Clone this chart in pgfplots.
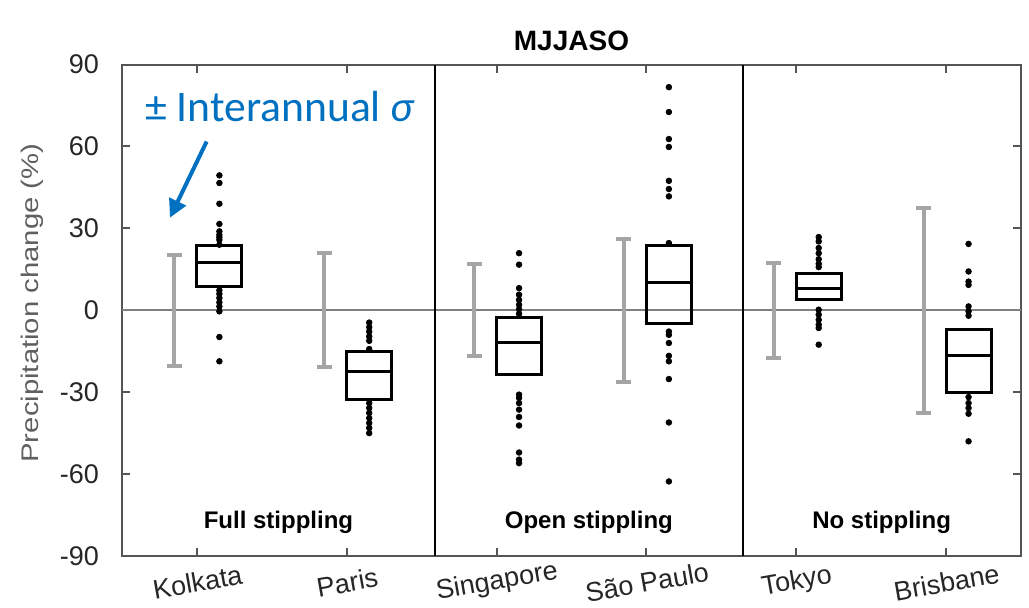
\documentclass[border=0pt]{standalone}
\usepackage{fontspec}
\setmainfont{Liberation Sans}
\newfontfamily\carlito{Carlito}
\usepackage{pgfplots}
\pgfplotsset{compat=1.18}
\usepgfplotslibrary{statistics}
\usetikzlibrary{arrows.meta}

\definecolor{axisgray}{RGB}{85,85,85}
\definecolor{zerogray}{RGB}{128,128,128}
\definecolor{sdgray}{RGB}{165,165,165}
\definecolor{annoblue}{RGB}{0,112,192}
\definecolor{labelgray}{RGB}{95,95,95}

\begin{document}
\begin{tikzpicture}
\begin{axis}[
    at={(0,0)}, anchor=south west,
    scale only axis,
    width=449.5pt, height=245.75pt,
    xmin=-0.5, xmax=5.5, ymin=-90, ymax=90,
    clip=false,
    axis line style={axisgray, line width=1pt},
    tick style={axisgray, line width=1pt},
    tick align=inside, tick pos=both,
    major tick length=4pt,
    xtick={0,...,5},
    xticklabels={Kolkata, Paris, Singapore, São Paulo, Tokyo, Brisbane},
    ytick={-90,-60,-30,0,30,60,90},
    yticklabels={-90,-60,-30,0,30,60,90},
    ticklabel style={font=\fontsize{13.5}{16}\selectfont, text=black!85},
    xticklabel style={rotate=10, anchor=center, yshift=-13pt, xshift=-2pt},
    yticklabel style={anchor=east, xshift=-8pt},
    ylabel={\scalebox{1.22}[1]{Precipitation change (\%)}},
    ylabel style={at={(axis description cs:0,0.5)}, anchor=center,
        xshift=3.6pt, yshift=45pt, text=labelgray,
        font=\fontsize{12}{14}\selectfont},
]

% zero line and group separators
\addplot[zerogray, line width=1pt] coordinates {(-0.5,0) (5.5,0)};
\addplot[black, line width=1.1pt] coordinates {(1.587,-90) (1.587,90)};
\addplot[black, line width=1.1pt] coordinates {(3.645,-90) (3.645,90)};

% +- interannual sigma
\addplot[draw=none, mark=none,
    error bars/.cd, y dir=both, y explicit,
    error bar style={sdgray, line width=2pt},
    error mark options={rotate=90, sdgray, line width=2pt, mark size=3.75pt}]
coordinates {
    (-0.15,0) +- (0,20.4)
    (0.85,0) +- (0,20.8)
    (1.85,0) +- (0,16.9)
    (2.85,0) +- (0,26.1)
    (3.85,0) +- (0,17.4)
    (4.85,0) +- (0,37.5)
};

% boxes
\pgfplotsset{boxstyle/.style={black, line width=1.5pt, solid, mark=none,
    boxplot/draw direction=y}}
\addplot[boxstyle, boxplot prepared={draw position=0.15, box extend=0.3,
    median=17.5, upper quartile=23.7, lower quartile=8.7,
    upper whisker=23.7, lower whisker=8.7}] coordinates {};
\addplot[boxstyle, boxplot prepared={draw position=1.15, box extend=0.3,
    median=-22.6, upper quartile=-15.1, lower quartile=-32.8,
    upper whisker=-15.1, lower whisker=-32.8}] coordinates {};
\addplot[boxstyle, boxplot prepared={draw position=2.15, box extend=0.3,
    median=-11.8, upper quartile=-2.6, lower quartile=-23.4,
    upper whisker=-2.6, lower whisker=-23.4}] coordinates {};
\addplot[boxstyle, boxplot prepared={draw position=3.15, box extend=0.3,
    median=10.0, upper quartile=23.7, lower quartile=-4.7,
    upper whisker=23.7, lower whisker=-4.7}] coordinates {};
\addplot[boxstyle, boxplot prepared={draw position=4.15, box extend=0.3,
    median=8.1, upper quartile=13.3, lower quartile=3.8,
    upper whisker=13.3, lower whisker=3.8}] coordinates {};
\addplot[boxstyle, boxplot prepared={draw position=5.15, box extend=0.3,
    median=-16.7, upper quartile=-7.1, lower quartile=-30.3,
    upper whisker=-7.1, lower whisker=-30.3}] coordinates {};

% individual model values
\pgfplotsset{dotstyle/.style={only marks, mark=*, mark size=1.4pt, black}}
\addplot[dotstyle] coordinates {
    (0.15,49.4) (0.15,46.6) (0.15,39.0) (0.15,31.6) (0.15,28.9) (0.15,27.6)
    (0.15,26.7) (0.15,25.8) (0.15,24.0) (0.15,7.3) (0.15,6.0) (0.15,4.5)
    (0.15,2.9) (0.15,1.4) (0.15,-0.4) (0.15,-9.8) (0.15,-18.7)
};
\addplot[dotstyle] coordinates {
    (1.15,-4.5) (1.15,-6.2) (1.15,-7.8) (1.15,-9.6) (1.15,-11.2) (1.15,-14.2)
    (1.15,-34.0) (1.15,-35.8) (1.15,-37.6) (1.15,-39.5) (1.15,-41.3)
    (1.15,-43.1) (1.15,-45.0)
};
\addplot[dotstyle] coordinates {
    (2.15,20.9) (2.15,16.7) (2.15,8.1) (2.15,5.7) (2.15,3.8) (2.15,2.0)
    (2.15,0.4) (2.15,-1.3) (2.15,-30.9) (2.15,-32.1) (2.15,-34.0)
    (2.15,-36.4) (2.15,-39.1) (2.15,-42.2) (2.15,-52.1) (2.15,-54.7)
    (2.15,-56.0)
};
\addplot[dotstyle] coordinates {
    (3.15,81.7) (3.15,72.6) (3.15,62.7) (3.15,59.8) (3.15,47.4) (3.15,44.4)
    (3.15,41.7) (3.15,24.6) (3.15,-7.8) (3.15,-9.0) (3.15,-12.0)
    (3.15,-16.7) (3.15,-18.7) (3.15,-25.2) (3.15,-41.1) (3.15,-62.7)
};
\addplot[dotstyle] coordinates {
    (4.15,26.8) (4.15,25.2) (4.15,22.8) (4.15,20.9) (4.15,18.7) (4.15,17.0)
    (4.15,15.8) (4.15,0.2) (4.15,-1.6) (4.15,-3.5) (4.15,-5.3) (4.15,-6.5)
    (4.15,-12.6)
};
\addplot[dotstyle] coordinates {
    (5.15,24.3) (5.15,14.2) (5.15,10.5) (5.15,9.3) (5.15,1.4) (5.15,-0.4)
    (5.15,-2.0) (5.15,-31.8) (5.15,-34.0) (5.15,-35.8) (5.15,-37.9)
    (5.15,-48.0)
};

% title and group labels
\node[anchor=base, font=\bfseries\fontsize{14}{16}\selectfont]
    at (rel axis cs:0.5,1) [yshift=7.25pt] {MJJASO};
\node[font=\bfseries\fontsize{12}{14}\selectfont] at (axis cs:0.544,-77.8) {Full stippling};
\node[font=\bfseries\fontsize{12}{14}\selectfont] at (axis cs:2.616,-77.8) {Open stippling};
\node[font=\bfseries\fontsize{12}{14}\selectfont] at (axis cs:4.57,-77.8) {No stippling};

% annotation
\node[anchor=base west, inner sep=0pt, text=annoblue,
    font=\carlito\fontsize{21.8}{24}\selectfont] at (axis cs:-0.347,69.0)
    {± Interannual \textit{σ}};
\draw[annoblue, line width=2pt, -{Triangle[length=9pt, width=9pt]}]
    (axis cs:0.065,61.8) -- (axis cs:-0.18,33.9);
\end{axis}
\pgfresetboundingbox
\useasboundingbox (-61pt,-26pt) rectangle (453.5pt,278pt);
\end{tikzpicture}
\end{document}
